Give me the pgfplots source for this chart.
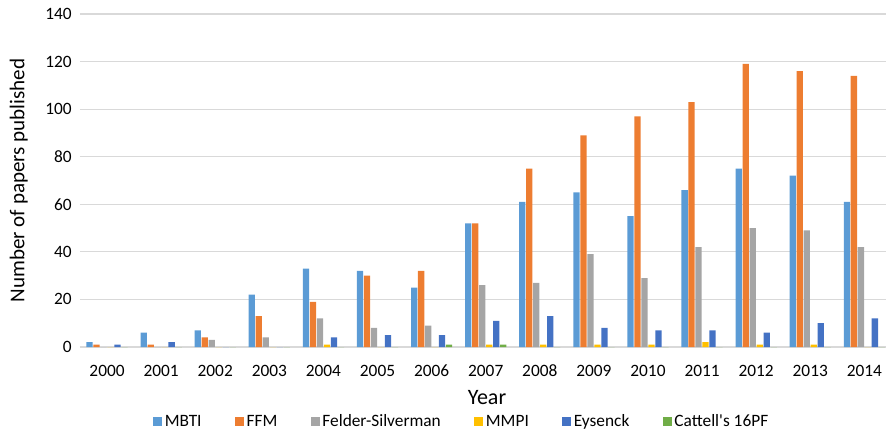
\documentclass[border=0pt]{standalone}
\usepackage{fontspec}
\setmainfont{Carlito}
\usepackage{pgfplots}
\usepackage{pgfplotstable}
\pgfplotsset{compat=1.18}
\definecolor{cMBTI}{HTML}{5B9BD5}
\definecolor{cFFM}{HTML}{ED7D31}
\definecolor{cFS}{HTML}{A5A5A5}
\definecolor{cMMPI}{HTML}{FFC000}
\definecolor{cEys}{HTML}{4472C4}
\definecolor{cCat}{HTML}{70AD47}
\definecolor{gridc}{HTML}{D9D9D9}
\pgfplotstableread{
x year MBTI FFM FS MMPI Eys Cat
0  2000 2  1   0  0 1  0
1  2001 6  1   0  0 2  0
2  2002 7  4   3  0 0  0
3  2003 22 13  4  0 0  0
4  2004 33 19  12 1 4  0
5  2005 32 30  8  0 5  0
6  2006 25 32  9  0 5  1
7  2007 52 52  26 1 11 1
8  2008 61 75  27 1 13 0
9  2009 65 89  39 1 8  0
10 2010 55 97  29 1 7  0
11 2011 66 103 42 2 7  0
12 2012 75 119 50 1 6  0
13 2013 72 116 49 1 10 0
14 2014 61 114 42 0 12 0
}\datatable
\begin{document}
\begin{tikzpicture}
\useasboundingbox (-60pt,-64.5pt) rectangle (604.5pt,260.25pt);
\begin{axis}[
  at={(0,0)}, anchor=south west,
  scale only axis,
  width=604.5pt, height=249.75pt,
  xmin=-0.5, xmax=14.4,
  ymin=0, ymax=140,
  ytick={0,20,...,140},
  xtick={0,...,14},
  xticklabels={2000,2001,2002,2003,2004,2005,2006,2007,2008,2009,2010,2011,2012,2013,2014},
  axis line style={draw=none},
  axis x line*=bottom,
  axis y line*=left,
  major tick length=0pt,
  ymajorgrids,
  grid style={gridc, line width=0.8pt},
  extra y ticks={0},
  extra y tick labels={},
  extra y tick style={grid style={gridc, line width=1pt}},
  /pgf/number format/assume math mode=true,
  tick label style={font=\fontsize{13}{15}\selectfont},
  yticklabel style={anchor=east, inner sep=0pt, xshift=-6pt},
  xticklabel style={anchor=center, inner sep=0pt, yshift=-18pt},
  xlabel={Year},
  ylabel={Number of papers published},
  xlabel style={at={(axis description cs:0.5,0)}, anchor=center, inner sep=0pt, yshift=-38pt, xshift=3pt, font=\fontsize{16.5}{19}\selectfont},
  ylabel style={at={(axis description cs:-0.0761,0.5)}, anchor=center, inner sep=0pt, font=\fontsize{15.8}{19}\selectfont},
  ybar, bar width=0.116,
  legend columns=6,
  legend style={at={(axis description cs:0.474,0)}, anchor=center, yshift=-56pt, draw=none, fill=none,
    font=\fontsize{13}{15}\selectfont, inner sep=0pt,
    /tikz/every even column/.append style={column sep=23pt},
    nodes={inner sep=2pt}},
  legend image code/.code={\fill[#1] (0pt,-3.4pt) rectangle (6.8pt,3.4pt);},
  clip=false,
]
\addplot[fill=cMBTI, draw=none, bar shift=-0.323] table[x=x, y=MBTI] {\datatable};
\addplot[fill=cFFM, draw=none, bar shift=-0.194] table[x=x, y=FFM] {\datatable};
\addplot[fill=cFS, draw=none, bar shift=-0.0647] table[x=x, y=FS] {\datatable};
\addplot[fill=cMMPI, draw=none, bar shift=0.0647] table[x=x, y=MMPI] {\datatable};
\addplot[fill=cEys, draw=none, bar shift=0.194] table[x=x, y=Eys] {\datatable};
\addplot[fill=cCat, draw=none, bar shift=0.323] table[x=x, y=Cat] {\datatable};
\legend{MBTI, FFM, Felder-Silverman, MMPI, Eysenck, Cattell\textquotesingle s 16PF}
\end{axis}
\end{tikzpicture}
\end{document}
